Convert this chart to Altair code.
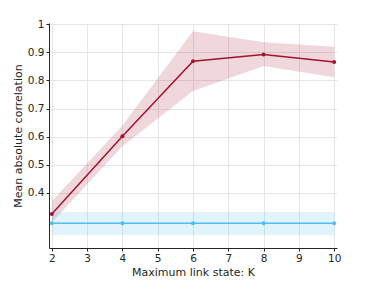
import altair as alt
import pandas as pd

K = [2, 4, 6, 8, 10]
red_mean = [0.325, 0.601, 0.868, 0.892, 0.865]
red_lo = [0.295, 0.566, 0.762, 0.851, 0.811]
red_hi = [0.370, 0.640, 0.975, 0.936, 0.920]
blue_mean = [0.292, 0.292, 0.292, 0.292, 0.292]
blue_lo = [0.249, 0.249, 0.249, 0.249, 0.249]
blue_hi = [0.332, 0.332, 0.332, 0.332, 0.332]

df = pd.DataFrame({
    "K": K * 2,
    "mean": red_mean + blue_mean,
    "lo": red_lo + blue_lo,
    "hi": red_hi + blue_hi,
    "series": ["red"] * 5 + ["blue"] * 5,
})

FONT = "DejaVu Sans"
xs = alt.Scale(domain=[1.92, 10.08], nice=False, zero=False)
ys = alt.Scale(domain=[0.204, 1.004], nice=False, zero=False)
col = alt.Scale(domain=["red", "blue"], range=["#a2142f", "#4dbeee"])

xaxis = alt.Axis(
    title="Maximum link state: K", values=list(range(2, 11)), format="d",
    grid=True, gridColor="#e6e6e6", domainColor="#262626", tickColor="#262626",
    tickSize=3, labelColor="#262626", titleColor="#262626", labelFontSize=10.5,
    titleFontSize=11, titleFontWeight="normal", labelFont=FONT, titleFont=FONT,
    titlePadding=3, labelPadding=2, labelOverlap=False)
yaxis = alt.Axis(
    title="Mean absolute correlation", values=[0.4, 0.5, 0.6, 0.7, 0.8, 0.9, 1.0],
    format="~g", grid=True, gridColor="#e6e6e6", domainColor="#262626",
    tickColor="#262626", tickSize=3, labelColor="#262626", titleColor="#262626",
    labelFontSize=10.5, titleFontSize=11, titleFontWeight="normal", labelFont=FONT,
    titleFont=FONT, titlePadding=4, labelPadding=2, labelOverlap=False)

x = alt.X("K:Q", scale=xs, axis=xaxis)
y = alt.Y("mean:Q", scale=ys, axis=yaxis)
color = alt.Color("series:N", scale=col, legend=None)

base = alt.Chart(df)
band = base.mark_area(opacity=0.17).encode(
    x=x, y=alt.Y("lo:Q", scale=ys, axis=yaxis), y2="hi:Q",
    color=color, detail="series:N")
line = base.mark_line(strokeWidth=1.5).encode(x=x, y=y, color=color)
pts = base.mark_circle(size=16, opacity=1).encode(x=x, y=y, color=color)

chart = alt.layer(band, line, pts).properties(
    width=288, height=225,
    autosize=alt.AutoSizeParams(type="none"),
    padding={"left": 41, "top": 15, "right": 20, "bottom": 40},
).configure_view(stroke=None)

chart.save("out.html", embed_options={"renderer": "svg", "actions": False})
